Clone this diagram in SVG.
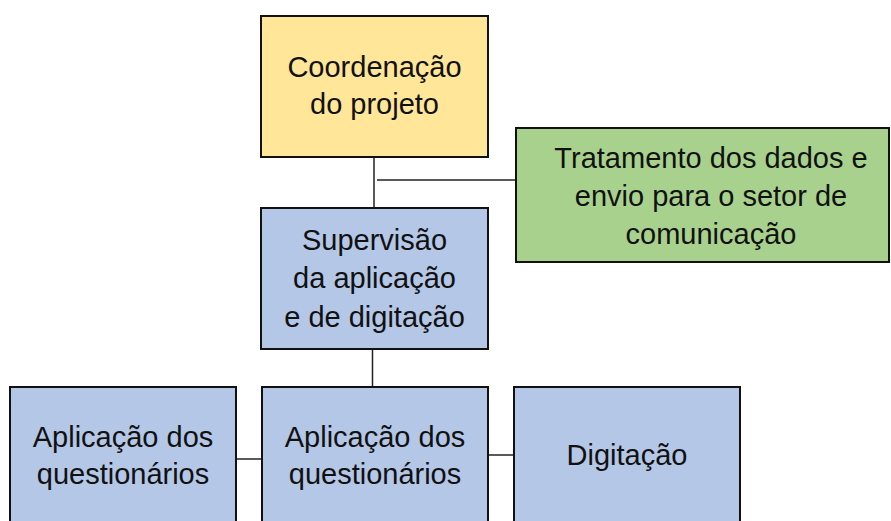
<svg xmlns="http://www.w3.org/2000/svg" width="891" height="521" viewBox="0 0 891 521">
<style>
.box{stroke:#111;stroke-width:2}
.yellow{fill:#FFE699}
.green{fill:#A9D18E}
.blue{fill:#B4C7E7}
.t{font-family:"Liberation Sans",Arial,sans-serif;font-size:29px;fill:#111;text-anchor:middle}
.c{stroke:#222;stroke-width:1.5;fill:none}
</style>
<rect width="891" height="521" fill="#fff"/>
<g id="connectors">
<line class="c" x1="374" y1="157" x2="374" y2="208"/>
<line class="c" x1="377" y1="180" x2="516" y2="180"/>
<line class="c" x1="372.5" y1="349" x2="372.5" y2="387"/>
<line class="c" x1="236" y1="459" x2="262" y2="459"/>
<line class="c" x1="488" y1="455" x2="514" y2="455"/>
</g>
<g id="coordenacao">
<rect class="box yellow" x="261" y="16" width="227" height="141"/>
<text class="t" x="374.5" y="77">Coordenação</text>
<text class="t" x="374.5" y="114">do projeto</text>
</g>
<g id="tratamento">
<rect class="box green" x="516" y="128" width="373" height="134"/>
<text class="t" x="711" y="168">Tratamento dos dados e</text>
<text class="t" x="711" y="206">envio para o setor de</text>
<text class="t" x="711" y="244">comunicação</text>
</g>
<g id="supervisao">
<rect class="box blue" x="261" y="208" width="227" height="141"/>
<text class="t" x="374.5" y="250">Supervisão</text>
<text class="t" x="374.5" y="288">da aplicação</text>
<text class="t" x="374.5" y="327">e de digitação</text>
</g>
<g id="aplicacao1">
<rect class="box blue" x="10" y="387" width="226" height="145"/>
<text class="t" x="123" y="447">Aplicação dos</text>
<text class="t" x="123" y="484">questionários</text>
</g>
<g id="aplicacao2">
<rect class="box blue" x="262" y="387" width="226" height="145"/>
<text class="t" x="375" y="447">Aplicação dos</text>
<text class="t" x="375" y="484">questionários</text>
</g>
<g id="digitacao">
<rect class="box blue" x="514" y="387" width="226" height="145"/>
<text class="t" x="627" y="465">Digitação</text>
</g>
</svg>
